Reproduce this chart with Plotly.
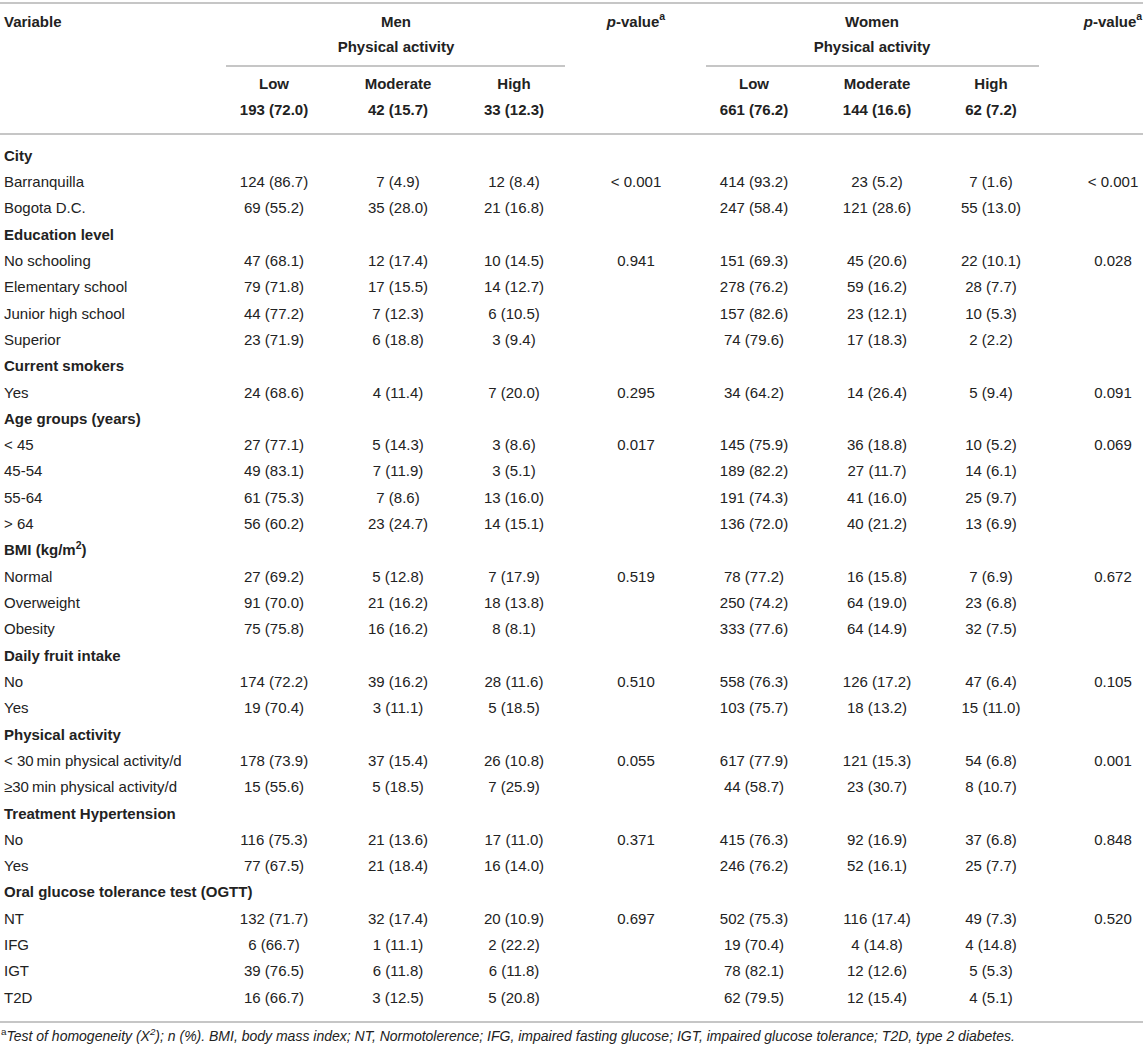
import plotly.graph_objects as go

## Data ----------------------------------------------------------------------------------------

variables = ["City", "Barranquilla", "Bogota D.C.",
             "Education level", "No schooling", "Elementary school", "Junior high school", "Superior",
             "Current smokers", "Yes",
             "Age groups (years)", "< 45", "45-54", "55-64", "> 64",
             "BMI (kg/m<sup>2</sup>)", "Normal", "Overweight", "Obesity",
             "Daily fruit intake", "No", "Yes",
             "Physical activity", "< 30\u2009min physical activity/d", "\u226530\u2009min physical activity/d",
             "Treatment Hypertension", "No", "Yes",
             "Oral glucose tolerance test (OGTT)", "NT", "IFG", "IGT", "T2D"]

# section title rows
sections = [0, 3, 8, 10, 15, 19, 22, 25, 28]

men_low = ["", "124 (86.7)", "69 (55.2)", "", "47 (68.1)", "79 (71.8)", "44 (77.2)", "23 (71.9)",
           "", "24 (68.6)", "", "27 (77.1)", "49 (83.1)", "61 (75.3)", "56 (60.2)",
           "", "27 (69.2)", "91 (70.0)", "75 (75.8)", "", "174 (72.2)", "19 (70.4)",
           "", "178 (73.9)", "15 (55.6)", "", "116 (75.3)", "77 (67.5)",
           "", "132 (71.7)", "6 (66.7)", "39 (76.5)", "16 (66.7)"]
men_mod = ["", "7 (4.9)", "35 (28.0)", "", "12 (17.4)", "17 (15.5)", "7 (12.3)", "6 (18.8)",
           "", "4 (11.4)", "", "5 (14.3)", "7 (11.9)", "7 (8.6)", "23 (24.7)",
           "", "5 (12.8)", "21 (16.2)", "16 (16.2)", "", "39 (16.2)", "3 (11.1)",
           "", "37 (15.4)", "5 (18.5)", "", "21 (13.6)", "21 (18.4)",
           "", "32 (17.4)", "1 (11.1)", "6 (11.8)", "3 (12.5)"]
men_high = ["", "12 (8.4)", "21 (16.8)", "", "10 (14.5)", "14 (12.7)", "6 (10.5)", "3 (9.4)",
            "", "7 (20.0)", "", "3 (8.6)", "3 (5.1)", "13 (16.0)", "14 (15.1)",
            "", "7 (17.9)", "18 (13.8)", "8 (8.1)", "", "28 (11.6)", "5 (18.5)",
            "", "26 (10.8)", "7 (25.9)", "", "17 (11.0)", "16 (14.0)",
            "", "20 (10.9)", "2 (22.2)", "6 (11.8)", "5 (20.8)"]
men_p = ["", "< 0.001", "", "", "0.941", "", "", "",
         "", "0.295", "", "0.017", "", "", "",
         "", "0.519", "", "", "", "0.510", "",
         "", "0.055", "", "", "0.371", "",
         "", "0.697", "", "", ""]

women_low = ["", "414 (93.2)", "247 (58.4)", "", "151 (69.3)", "278 (76.2)", "157 (82.6)", "74 (79.6)",
             "", "34 (64.2)", "", "145 (75.9)", "189 (82.2)", "191 (74.3)", "136 (72.0)",
             "", "78 (77.2)", "250 (74.2)", "333 (77.6)", "", "558 (76.3)", "103 (75.7)",
             "", "617 (77.9)", "44 (58.7)", "", "415 (76.3)", "246 (76.2)",
             "", "502 (75.3)", "19 (70.4)", "78 (82.1)", "62 (79.5)"]
women_mod = ["", "23 (5.2)", "121 (28.6)", "", "45 (20.6)", "59 (16.2)", "23 (12.1)", "17 (18.3)",
             "", "14 (26.4)", "", "36 (18.8)", "27 (11.7)", "41 (16.0)", "40 (21.2)",
             "", "16 (15.8)", "64 (19.0)", "64 (14.9)", "", "126 (17.2)", "18 (13.2)",
             "", "121 (15.3)", "23 (30.7)", "", "92 (16.9)", "52 (16.1)",
             "", "116 (17.4)", "4 (14.8)", "12 (12.6)", "12 (15.4)"]
women_high = ["", "7 (1.6)", "55 (13.0)", "", "22 (10.1)", "28 (7.7)", "10 (5.3)", "2 (2.2)",
              "", "5 (9.4)", "", "10 (5.2)", "14 (6.1)", "25 (9.7)", "13 (6.9)",
              "", "7 (6.9)", "23 (6.8)", "32 (7.5)", "", "47 (6.4)", "15 (11.0)",
              "", "54 (6.8)", "8 (10.7)", "", "37 (6.8)", "25 (7.7)",
              "", "49 (7.3)", "4 (14.8)", "5 (5.3)", "4 (5.1)"]
women_p = ["", "< 0.001", "", "", "0.028", "", "", "",
           "", "0.091", "", "0.069", "", "", "",
           "", "0.672", "", "", "", "0.105", "",
           "", "0.001", "", "", "0.848", "",
           "", "0.520", "", "", ""]

levels = ["Low", "Moderate", "High"]
men_totals = ["193 (72.0)", "42 (15.7)", "33 (12.3)"]
women_totals = ["661 (76.2)", "144 (16.6)", "62 (7.2)"]

footnote = ("<sup>a</sup><i>Test of homogeneity (X<sup>2</sup>); n (%). BMI, body mass index; "
            "NT, Normotolerence; IFG, impaired fasting glucose; IGT, impaired glucose tolerance; "
            "T2D, type 2 diabetes.</i>")

## Layout --------------------------------------------------------------------------------------

W, H = 1143, 1052
FONT = "Liberation Sans, Arial, sans-serif"
TXT = "#222222"
LINE = "#c6c6c6"
FS = 15

x_label = 4
men_x = [274, 398, 514]
men_px = 636
women_x = [754, 877, 991]
women_px = 1113

y_first = 157
dy = 26.31
row_y = [y_first + i * dy for i in range(len(variables))]

fig = go.Figure()


def add_text(xs, ys, texts, pos="middle center", size=FS):
    # skip the blank cells
    keep = [(x, y, t) for x, y, t in zip(xs, ys, texts) if t]
    fig.add_trace(go.Scatter(x=[k[0] for k in keep], y=[k[1] for k in keep],
                             text=[k[2] for k in keep], mode="text", textposition=pos,
                             textfont=dict(family=FONT, size=size, color=TXT),
                             hoverinfo="skip", showlegend=False))


# body
labels = ["<b>%s</b>" % v if i in sections else v for i, v in enumerate(variables)]
add_text([x_label] * len(labels), row_y, labels, pos="middle right")
for xc, col in zip(men_x + [men_px] + women_x + [women_px],
                   [men_low, men_mod, men_high, men_p, women_low, women_mod, women_high, women_p]):
    add_text([xc] * len(col), row_y, col)

# header
add_text([x_label], [23], ["<b>Variable</b>"], pos="middle right")
add_text([396, 872], [23, 23], ["<b>Men</b>", "<b>Women</b>"])
add_text([396, 872], [48, 48], ["<b>Physical activity</b>"] * 2)
add_text([men_px, women_px], [23, 23], ["<b><i>p</i>-value<sup>a</sup></b>"] * 2)
add_text(men_x + women_x, [85] * 6, ["<b>%s</b>" % l for l in levels * 2])
add_text(men_x + women_x, [111] * 6, ["<b>%s</b>" % t for t in men_totals + women_totals])

# footnote
add_text([1], [1037], [footnote], pos="middle right", size=14)

# rules
for y0, xa, xb in [(3, 0, W), (66, 226, 565), (66, 706, 1039), (134, 0, W), (1022, 0, W)]:
    fig.add_shape(type="line", x0=xa, x1=xb, y0=y0, y1=y0, line=dict(color=LINE, width=2))

fig.update_xaxes(range=[0, W], visible=False, fixedrange=True)
fig.update_yaxes(range=[H, 0], visible=False, fixedrange=True)
fig.update_layout(width=W, height=H, margin=dict(l=0, r=0, t=0, b=0),
                  plot_bgcolor="white", paper_bgcolor="white")

fig.write_html("out.html", config={"displayModeBar": False},
               post_script="document.body.style.margin = '0';")
